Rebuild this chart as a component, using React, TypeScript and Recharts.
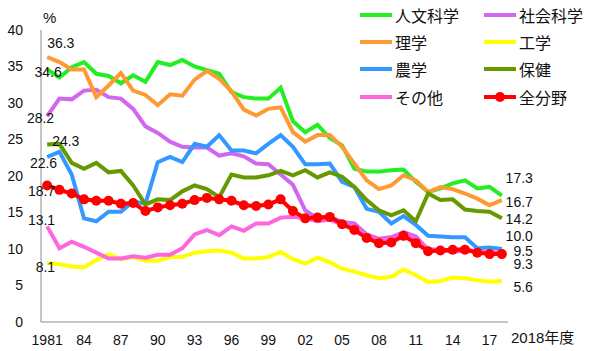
import React from "react";
import { LineChart, Line, XAxis, YAxis, LabelList } from "recharts";

const years = [
  1981, 1982, 1983, 1984, 1985, 1986, 1987, 1988, 1989, 1990,
  1991, 1992, 1993, 1994, 1995, 1996, 1997, 1998, 1999, 2000,
  2001, 2002, 2003, 2004, 2005, 2006, 2007, 2008, 2009, 2010,
  2011, 2012, 2013, 2014, 2015, 2016, 2017, 2018,
];

const xTickYears = [1981, 1984, 1987, 1990, 1993, 1996, 1999, 2002, 2005, 2008, 2011, 2014, 2017];
const yTicks = [0, 5, 10, 15, 20, 25, 30, 35, 40];

// 人文科学
const humanities = [
  34.6, 33.5, 34.9, 35.6, 34.0, 33.7, 32.7, 33.8, 32.9, 35.6,
  35.2, 35.9, 35.0, 34.5, 34.0, 31.5, 30.8, 30.6, 30.6, 32.1,
  27.5, 26.0, 27.0, 25.2, 24.2, 21.0, 20.6, 20.6, 20.8, 20.9,
  19.2, 17.8, 18.3, 19.0, 19.4, 18.3, 18.5, 17.3,
];
// 社会科学
const social = [
  28.2, 30.6, 30.5, 31.7, 31.8, 30.8, 30.6, 29.2, 26.8, 25.9,
  24.7, 24.0, 23.9, 23.9, 22.8, 23.1, 22.7, 21.7, 21.6, 20.2,
  18.8, 15.3, 14.2, 14.4, 13.7, 13.5, 12.0, 11.4, 11.6, 12.3,
  11.7, 9.9, 9.9, 9.6, 9.8, 9.7, 9.5, 9.5,
];
// 理学
const science = [
  36.3, 35.6, 34.6, 34.6, 30.8, 32.4, 34.1, 31.7, 31.1, 29.7,
  31.2, 31.0, 33.2, 34.4, 33.3, 31.6, 29.1, 28.3, 29.2, 29.4,
  26.0, 24.7, 25.6, 25.6, 24.0, 21.7, 19.4, 18.2, 18.7, 20.1,
  19.4, 17.8, 18.5, 18.2, 17.6, 16.9, 16.0, 16.7,
];
// 工学
const engineering = [
  8.1, 7.9, 7.6, 7.5, 8.5, 9.3, 8.6, 8.9, 8.4, 8.4,
  8.9, 8.9, 9.5, 9.7, 9.8, 9.5, 8.7, 8.7, 8.9, 9.6,
  8.6, 8.0, 8.8, 8.2, 7.3, 6.9, 6.4, 6.0, 6.2, 7.2,
  6.4, 5.5, 5.6, 6.1, 6.0, 5.7, 5.5, 5.6,
];
// 農学
const agriculture = [
  22.6, 23.3, 20.2, 14.2, 13.8, 15.1, 15.1, 16.5, 16.2, 21.9,
  22.6, 21.9, 24.4, 24.0, 25.6, 23.5, 23.5, 23.1, 24.4, 25.6,
  24.0, 21.6, 21.6, 21.7, 19.2, 18.5, 15.5, 15.1, 13.5, 14.5,
  13.3, 11.8, 11.7, 11.6, 11.6, 10.1, 10.2, 10.0,
];
// 保健
const health = [
  24.3, 24.4, 21.8, 21.0, 21.8, 20.5, 20.7, 18.7, 16.1, 16.8,
  16.7, 17.9, 18.7, 18.2, 17.1, 20.2, 19.8, 19.8, 20.1, 20.7,
  20.1, 20.8, 19.8, 20.5, 19.9, 18.5, 16.7, 15.3, 14.6, 15.3,
  13.8, 17.6, 16.7, 16.8, 15.4, 15.2, 15.1, 14.2,
];
// その他
const other = [
  13.1, 10.1, 11.0, 10.3, 9.5, 8.7, 8.7, 9.0, 8.8, 9.2,
  9.2, 10.1, 12.0, 12.6, 11.9, 13.1, 12.5, 13.5, 13.5, 14.3,
  14.4, 14.2, 13.8, 14.0, 13.4, 13.1, 11.6, 11.2, 11.3, 12.0,
  11.4, 10.0, 9.8, 9.9, 10.0, 9.6, 9.5, 9.6,
];
// 全分野
const allFields = [
  18.7, 18.1, 17.6, 16.8, 16.6, 16.6, 16.2, 16.3, 15.2, 15.7,
  16.0, 16.2, 16.7, 17.0, 16.8, 16.6, 16.0, 15.9, 16.1, 16.8,
  15.2, 14.2, 14.3, 14.4, 13.4, 12.6, 11.5, 10.8, 10.9, 11.8,
  10.8, 9.7, 9.8, 9.9, 9.9, 9.5, 9.3, 9.3,
];

const data = years.map((year, i) => ({
  year,
  humanities: humanities[i],
  social: social[i],
  science: science[i],
  engineering: engineering[i],
  agriculture: agriculture[i],
  health: health[i],
  other: other[i],
  allFields: allFields[i],
}));

// category boundaries for the small tick marks
const boundaries = [...years.map((y) => y - 0.5), years[years.length - 1] + 0.5];

type Edge = { dx: number; dy: number; anchor: "start" | "middle" | "end" };
type Series = { key: string; name: string; color: string; start: Edge; end: Edge | null; dots?: boolean };

// legend order: row by row, two columns
const series: Series[] = [
  { key: "humanities", name: "人文科学", color: "#22ee22", start: { dx: 1, dy: 3, anchor: "middle" }, end: { dx: 31, dy: -18, anchor: "end" } },
  { key: "social", name: "社会科学", color: "#d166f0", start: { dx: 7, dy: 2, anchor: "end" }, end: { dx: 31, dy: -2, anchor: "end" } },
  { key: "science", name: "理学", color: "#ff9933", start: { dx: 0, dy: -14, anchor: "start" }, end: { dx: 31, dy: 2, anchor: "end" } },
  { key: "engineering", name: "工学", color: "#ffff00", start: { dx: 8, dy: 4, anchor: "end" }, end: { dx: 31, dy: 6, anchor: "end" } },
  { key: "agriculture", name: "農学", color: "#3399ff", start: { dx: 10, dy: 6, anchor: "end" }, end: { dx: 31, dy: -13, anchor: "end" } },
  { key: "health", name: "保健", color: "#669900", start: { dx: 5, dy: -4, anchor: "start" }, end: { dx: 31, dy: 1, anchor: "end" } },
  { key: "other", name: "その他", color: "#ff66dd", start: { dx: 8, dy: -6, anchor: "end" }, end: null },
  { key: "allFields", name: "全分野", color: "#ff0000", start: { dx: 8, dy: 6, anchor: "end" }, end: { dx: 31, dy: 10, anchor: "end" }, dots: true },
];

const FONT = "'Liberation Sans', Arial, 'Noto Sans CJK JP', sans-serif";
const AXIS = "#8c8c8c";

function edgeLabel(s: Series) {
  return (props: any) => {
    const { index, value } = props;
    const vb = props.viewBox || {};
    const x = props.x ?? vb.x;
    const y = props.y ?? vb.y;
    const cfg = index === 0 ? s.start : index === years.length - 1 ? s.end : null;
    if (!cfg || x == null || y == null) return null;
    return (
      <text
        x={x + cfg.dx}
        y={y + cfg.dy}
        textAnchor={cfg.anchor}
        dominantBaseline="central"
        fontSize={14}
        fontFamily={FONT}
        fill="#111"
      >
        {Number(value).toFixed(1)}
      </text>
    );
  };
}

function Legend() {
  return (
    <div
      style={{
        position: "absolute",
        left: 360,
        top: 1,
        display: "grid",
        gridTemplateColumns: "124px 100px",
        gridAutoRows: "27.3px",
        fontFamily: "'Noto Sans CJK JP', sans-serif",
        fontSize: 16,
        color: "#111",
      }}
    >
      {series.map((s) => (
        <div key={s.key} style={{ display: "flex", alignItems: "center" }}>
          <span style={{ position: "relative", width: 32, height: 4, background: s.color, marginRight: 3 }}>
            {s.dots && (
              <span
                style={{
                  position: "absolute",
                  left: 11,
                  top: -3,
                  width: 10,
                  height: 10,
                  borderRadius: "50%",
                  background: s.color,
                }}
              />
            )}
          </span>
          <span style={{ lineHeight: "16px" }}>{s.name}</span>
        </div>
      ))}
    </div>
  );
}

export default function App() {
  return (
    <div style={{ position: "relative", width: 600, height: 351, background: "#fff" }}>
      <style>{"body{margin:0}"}</style>
      <LineChart width={600} height={351} data={data} margin={{ top: 30, right: 92, bottom: 0, left: 0 }}>
        <XAxis
          xAxisId="marks"
          type="number"
          dataKey="year"
          domain={[1980.5, 2018.5]}
          ticks={boundaries}
          interval={0}
          mirror
          height={0}
          tick={false}
          tickSize={5}
          tickLine={{ stroke: AXIS }}
          axisLine={false}
        />
        <XAxis
          type="number"
          dataKey="year"
          domain={[1980.5, 2018.5]}
          ticks={xTickYears}
          interval={0}
          height={29}
          tickLine={false}
          tickSize={0}
          tickMargin={13}
          axisLine={{ stroke: AXIS }}
          tick={{ fill: "#111", fontSize: 14, fontFamily: FONT }}
          tickFormatter={(v: number) => (v === 1981 ? "1981" : String(v).slice(2))}
        />
        <YAxis
          yAxisId="marks"
          domain={[0, 40]}
          ticks={yTicks}
          interval={0}
          mirror
          width={0}
          tick={false}
          tickSize={4}
          tickLine={{ stroke: AXIS }}
          axisLine={false}
        />
        <YAxis
          domain={[0, 40]}
          ticks={yTicks}
          interval={0}
          width={41}
          tickLine={false}
          tickSize={0}
          tickMargin={18}
          axisLine={{ stroke: AXIS }}
          tick={{ fill: "#111", fontSize: 14, fontFamily: FONT }}
        />
        {series.map((s) => (
          <Line
            key={s.key}
            dataKey={s.key}
            name={s.name}
            type="linear"
            stroke={s.color}
            strokeWidth={4}
            dot={s.dots ? { r: 5, fill: s.color, stroke: s.color, strokeWidth: 0 } : false}
            activeDot={false}
            isAnimationActive={false}
          >
            <LabelList dataKey={s.key} content={edgeLabel(s)} />
          </Line>
        ))}
      </LineChart>
      <div style={{ position: "absolute", left: 43, top: 9, fontSize: 15, fontFamily: FONT, color: "#111" }}>%</div>
      <div style={{ position: "absolute", left: 511, top: 330, fontSize: 15, fontFamily: FONT, color: "#111", lineHeight: "16px" }}>
        2018年度
      </div>
      <Legend />
    </div>
  );
}
